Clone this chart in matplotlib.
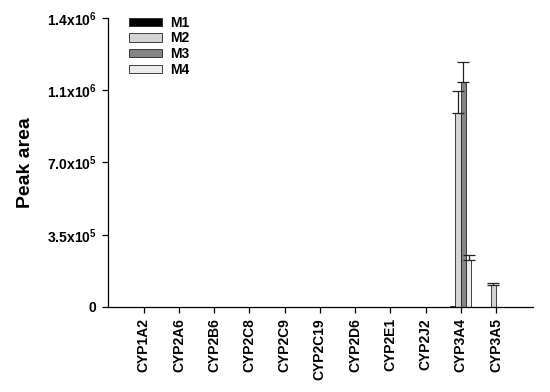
import matplotlib
matplotlib.use("Agg")
import matplotlib.pyplot as plt
import numpy as np

plt.rcParams['font.family'] = ['Liberation Sans', 'DejaVu Sans']
plt.rcParams['font.weight'] = 'bold'
plt.rcParams['mathtext.fontset'] = 'custom'
plt.rcParams['mathtext.rm'] = 'Liberation Sans:bold'
plt.rcParams['mathtext.bf'] = 'Liberation Sans:bold'
plt.rcParams['mathtext.it'] = 'Liberation Sans:bold'

categories = ["CYP1A2", "CYP2A6", "CYP2B6", "CYP2C8", "CYP2C9", "CYP2C19",
              "CYP2D6", "CYP2E1", "CYP2J2", "CYP3A4", "CYP3A5"]
series = ["M1", "M2", "M3", "M4"]
m1 = [0, 0, 0, 0, 0, 0, 0, 0, 0, 5000, 0]
m2 = [0, 0, 0, 0, 0, 0, 0, 0, 0, 940000, 107000]
m3 = [0, 0, 0, 0, 0, 0, 0, 0, 0, 1092000, 0]
m4 = [0, 0, 0, 0, 0, 0, 0, 0, 0, 228000, 0]
m1_err = [0, 0, 0, 0, 0, 0, 0, 0, 0, 0, 0]
m2_err = [0, 0, 0, 0, 0, 0, 0, 0, 0, 106000, 9000]
m3_err = [0, 0, 0, 0, 0, 0, 0, 0, 0, 95000, 0]
m4_err = [0, 0, 0, 0, 0, 0, 0, 0, 0, 24000, 0]
y_ticks = [0, 350000, 700000, 1050000, 1400000]
y_tick_labels = ["0", r"3.5x10$^{5}$", r"7.0x10$^{5}$", r"1.1x10$^{6}$", r"1.4x10$^{6}$"]

values = [m1, m2, m3, m4]
errors = [m1_err, m2_err, m3_err, m4_err]
colors = ["#000000", "#d4d4d4", "#858585", "#ececec"]

fig = plt.figure(figsize=(5.5, 3.92), dpi=100)
ax = fig.add_axes([0.196, 0.217, 0.773, 0.737])

x = np.arange(len(categories))
w = 0.15
offsets = [-1.5 * w, -0.5 * w, 0.5 * w, 1.5 * w]
for name, vals, errs, col, off in zip(series, values, errors, colors, offsets):
    vals = np.array(vals, dtype=float)
    errs = np.array(errs, dtype=float)
    ax.bar(x + off, vals, width=w, color=col, edgecolor="#222222", linewidth=0.6, label=name)
    mask = errs > 0
    if mask.any():
        ax.errorbar((x + off)[mask], vals[mask], yerr=[np.zeros(mask.sum()), errs[mask]],
                    fmt="none", ecolor="#222222", elinewidth=0.9, capsize=4.2, capthick=0.9)

ax.set_xlim(-1.02, 11.05)
ax.set_ylim(0, 1400000)
ax.set_xticks(x)
ax.set_xticklabels(categories, rotation=90, fontsize=10, fontweight="bold")
ax.set_yticks(y_ticks)
ax.set_yticklabels(y_tick_labels, fontsize=10, fontweight="bold")
ax.set_ylabel("Peak area", fontsize=14, fontweight="bold", labelpad=9)
ax.spines["top"].set_visible(False)
ax.spines["right"].set_visible(False)
ax.spines["left"].set_linewidth(0.9)
ax.spines["bottom"].set_linewidth(0.9)
ax.tick_params(axis="both", direction="out", length=4, width=0.9, pad=4)

leg = ax.legend(loc="upper left", bbox_to_anchor=(0.036, 1.027), frameon=False,
                fontsize=10, handlelength=2.4, handleheight=0.55, labelspacing=0.12,
                handletextpad=0.6, borderaxespad=0)
for t in leg.get_texts():
    t.set_fontweight("bold")

fig.savefig("out.png", dpi=100)
